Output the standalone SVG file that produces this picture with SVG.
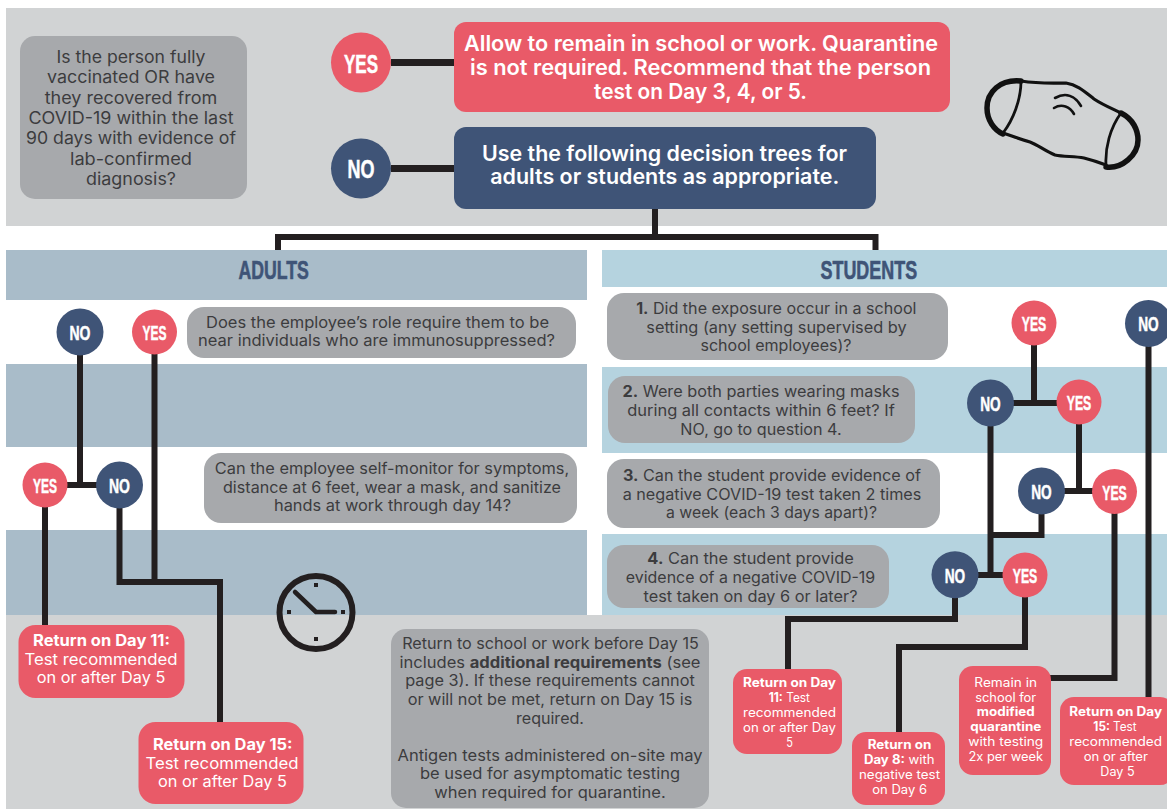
<svg xmlns="http://www.w3.org/2000/svg" width="1167" height="809" viewBox="0 0 1167 809">
<style>
text{font-family:Inter,"Open Sans","Liberation Sans",sans-serif;text-anchor:middle}
.q{fill:#a7a9ac}.r{fill:#e95a68}.b{fill:#3f5477}
.qt{fill:#3c3c3e;font-size:15.5px}
.qtl{fill:#3c3c3e;font-size:17px}
.wt{fill:#fff;font-size:15.5px}
.ws{fill:#fff;font-size:12.5px}
.big{fill:#fff;font-size:21px;font-weight:600}
.cap{font-family:"Liberation Sans Narrow","Liberation Sans",sans-serif;font-weight:700;fill:#fff;stroke:#fff;stroke-width:.5px}
.c1{font-size:26px}.c2{font-size:21px}
.hd{font-family:"Liberation Sans Narrow","Liberation Sans",sans-serif;font-weight:700;font-size:26px;fill:#3f5477;stroke:#3f5477;stroke-width:.6px}
.bd{font-weight:700}
.line{fill:none;stroke:#231f20;stroke-width:6;stroke-linejoin:miter}
.thick{stroke-width:7}
.ink{fill:none;stroke:#111;stroke-linecap:round;stroke-linejoin:round}
</style>
<rect width="1167" height="809" fill="#fff"/>
<g id="backgrounds">
<rect x="6" y="8" width="1161" height="218" fill="#d1d3d4"/>
<rect x="6" y="615" width="1161" height="194" fill="#d1d3d4"/>
<g fill="#a9bcc9">
<rect x="6" y="250" width="581" height="50"/>
<rect x="6" y="364" width="581" height="83"/>
<rect x="6" y="530" width="581" height="85"/>
</g>
<g fill="#b5d3df">
<rect x="602" y="250" width="565" height="37"/>
<rect x="602" y="367" width="565" height="86"/>
<rect x="602" y="534" width="565" height="81"/>
</g>
</g>
<g id="connectors">
<path class="line thick" d="M391 62.500H454M391 168.500H454"/>
<path class="line" d="M655 209V237M278 250V237H875.500V250"/>
<path class="line" d="M80 332V485M45 485H119.500M154.500 332V582M119.500 485V582H220V722M45 485V625"/>
<path class="line" d="M1034 323V403M990.500 403H1079M990.500 403V575M955 575H1025M1079 402V491M1041.500 491H1114.500M1041.500 491V535H990.500"/>
<path class="line" d="M955 575V619H788V669M1025 575V647H899V732M1114.500 491V678H1050M1148.500 323V697"/>
</g>
<g id="mask">
<path class="ink" stroke-width="3.200" d="M1021 81C1040 84 1055 83 1066 83C1078 85 1085 92 1094 99C1103 105 1113 109 1121 113M1106 165C1098 162 1092 160 1084 158C1074 156 1064 157 1055 155C1045 151 1038 145 1030 142C1020 139 1012 136 1003 133"/>
<path class="ink" stroke-width="5.500" d="M1021 81C1000 79 987 92 987 108C987 120 994 130 1003 134M1121 113C1133 119 1138 130 1138 140C1138 155 1122 169 1106 167"/>
<path class="ink" stroke-width="2.800" d="M1021 81C1021 100 1013 120 1003 133M1121 113C1110 128 1105 148 1106 165"/>
<path class="ink" stroke-width="2.600" d="M1055 98C1066 92 1075 96 1081 106M1054 108C1062 103 1070 107 1074 114"/>
</g>
<g id="clock">
<circle cx="316" cy="612.500" r="36.500" fill="none" stroke="#231f20" stroke-width="6"/>
<path d="M295 592L316 612H335" fill="none" stroke="#231f20" stroke-width="4.500" stroke-linecap="round" stroke-linejoin="round"/>
<g fill="#231f20"><rect x="314" y="583" width="4" height="4"/><rect x="287" y="610" width="4" height="4"/><rect x="341" y="610" width="4" height="4"/><rect x="314" y="637" width="4" height="4"/></g>
</g>
<g id="q-main">
<rect class="q" x="20" y="36" width="227" height="163" rx="15"/>
<text class="qtl" x="131" y="62.700" textLength="149" lengthAdjust="spacingAndGlyphs">Is the person fully</text>
<text class="qtl" x="131" y="83" textLength="168" lengthAdjust="spacingAndGlyphs">vaccinated OR have</text>
<text class="qtl" x="131" y="103.500" textLength="172.600" lengthAdjust="spacingAndGlyphs">they recovered from</text>
<text class="qtl" x="131" y="124" textLength="205" lengthAdjust="spacingAndGlyphs">COVID-19 within the last</text>
<text class="qtl" x="131" y="144.300" textLength="210" lengthAdjust="spacingAndGlyphs">90 days with evidence of</text>
<text class="qtl" x="131" y="165" textLength="122" lengthAdjust="spacingAndGlyphs">lab-confirmed</text>
<text class="qtl" x="131" y="185.300" textLength="90" lengthAdjust="spacingAndGlyphs">diagnosis?</text>
</g>
<g id="yes-main"><circle class="r" cx="361" cy="62.500" r="30"/><text class="cap c1" x="361" y="72.700" textLength="34" lengthAdjust="spacingAndGlyphs">YES</text></g>
<g id="no-main"><circle class="b" cx="361" cy="168.500" r="30"/><text class="cap c1" x="361" y="178" textLength="27" lengthAdjust="spacingAndGlyphs">NO</text></g>
<g id="allow">
<rect class="r" x="454" y="22" width="496" height="90" rx="12"/>
<text class="big" x="701" y="50.700" textLength="474" lengthAdjust="spacingAndGlyphs">Allow to remain in school or work. Quarantine</text>
<text class="big" x="700.500" y="75" textLength="461" lengthAdjust="spacingAndGlyphs">is not required. Recommend that the person</text>
<text class="big" x="700.500" y="99" textLength="213" lengthAdjust="spacingAndGlyphs">test on Day 3, 4, or 5.</text>
</g>
<g id="use-trees">
<rect class="b" x="454" y="127" width="422" height="82" rx="12"/>
<text class="big" x="664.500" y="160.700" textLength="365" lengthAdjust="spacingAndGlyphs">Use the following decision trees for</text>
<text class="big" x="664.800" y="184" textLength="349" lengthAdjust="spacingAndGlyphs">adults or students as appropriate.</text>
</g>
<g id="adults-head"><text class="hd" x="273.700" y="279" textLength="70.500" lengthAdjust="spacingAndGlyphs">ADULTS</text></g>
<g id="students-head"><text class="hd" x="868.800" y="279" textLength="96.600" lengthAdjust="spacingAndGlyphs">STUDENTS</text></g>
<g id="a-q1">
<rect class="q" x="187" y="307" width="389" height="51" rx="17"/>
<text class="qt" x="377.500" y="327.700" textLength="343" lengthAdjust="spacingAndGlyphs">Does the employee’s role require them to be</text>
<text class="qt" x="376.500" y="346" textLength="357" lengthAdjust="spacingAndGlyphs">near individuals who are immunosuppressed?</text>
</g>
<g id="a-q2">
<rect class="q" x="204" y="453" width="373" height="70" rx="17"/>
<text class="qt" x="392" y="474.300" textLength="354.400" lengthAdjust="spacingAndGlyphs">Can the employee self-monitor for symptoms,</text>
<text class="qt" x="392" y="492.700" textLength="338" lengthAdjust="spacingAndGlyphs">distance at 6 feet, wear a mask, and sanitize</text>
<text class="qt" x="392.500" y="511.300" textLength="237" lengthAdjust="spacingAndGlyphs">hands at work through day 14?</text>
</g>
<g id="a-no1"><circle class="b" cx="80" cy="332" r="23.500"/><text class="cap c2" x="80" y="340" textLength="21" lengthAdjust="spacingAndGlyphs">NO</text></g>
<g id="a-yes1"><circle class="r" cx="154.500" cy="332" r="22.500"/><text class="cap c2" x="154.500" y="340" textLength="24" lengthAdjust="spacingAndGlyphs">YES</text></g>
<g id="a-yes2"><circle class="r" cx="45" cy="485" r="22.500"/><text class="cap c2" x="45" y="493" textLength="24" lengthAdjust="spacingAndGlyphs">YES</text></g>
<g id="a-no2"><circle class="b" cx="119.500" cy="485" r="23.500"/><text class="cap c2" x="119.500" y="493" textLength="21" lengthAdjust="spacingAndGlyphs">NO</text></g>
<g id="a-day11">
<rect class="r" x="18.500" y="625" width="166" height="73" rx="17"/>
<text class="wt bd" x="101.500" y="646" textLength="137" lengthAdjust="spacingAndGlyphs">Return on Day 11:</text>
<text class="wt" x="101" y="664.700" textLength="153" lengthAdjust="spacingAndGlyphs">Test recommended</text>
<text class="wt" x="101" y="683.300" textLength="128.600" lengthAdjust="spacingAndGlyphs">on or after Day 5</text>
</g>
<g id="a-day15">
<rect class="r" x="138.500" y="722" width="165" height="82" rx="17"/>
<text class="wt bd" x="222.700" y="750" textLength="139.600" lengthAdjust="spacingAndGlyphs">Return on Day 15:</text>
<text class="wt" x="222" y="768.700" textLength="153" lengthAdjust="spacingAndGlyphs">Test recommended</text>
<text class="wt" x="222.500" y="787.300" textLength="129" lengthAdjust="spacingAndGlyphs">on or after Day 5</text>
</g>
<g id="note">
<rect class="q" x="391" y="629" width="318" height="179" rx="15"/>
<text class="qt" x="550.500" y="649" textLength="296.600" lengthAdjust="spacingAndGlyphs">Return to school or work before Day 15</text>
<text class="qt" x="550" y="667.700" textLength="301" lengthAdjust="spacingAndGlyphs">includes <tspan class="bd">additional requirements</tspan> (see</text>
<text class="qt" x="550" y="686" textLength="289.700" lengthAdjust="spacingAndGlyphs">page 3). If these requirements cannot</text>
<text class="qt" x="550" y="705" textLength="284.700" lengthAdjust="spacingAndGlyphs">or will not be met, return on Day 15 is</text>
<text class="qt" x="550" y="723.500" textLength="68" lengthAdjust="spacingAndGlyphs">required.</text>
<text class="qt" x="550" y="760.700" textLength="305" lengthAdjust="spacingAndGlyphs">Antigen tests administered on-site may</text>
<text class="qt" x="550" y="779.300" textLength="260" lengthAdjust="spacingAndGlyphs">be used for asymptomatic testing</text>
<text class="qt" x="550" y="797.700" textLength="231.400" lengthAdjust="spacingAndGlyphs">when required for quarantine.</text>
</g>
<g id="s-q1">
<rect class="q" x="607" y="293" width="341" height="67" rx="17"/>
<text class="qt" x="776.300" y="314" textLength="280.300" lengthAdjust="spacingAndGlyphs"><tspan class="bd">1.</tspan> Did the exposure occur in a school</text>
<text class="qt" x="776.500" y="332.700" textLength="260.400" lengthAdjust="spacingAndGlyphs">setting (any setting supervised by</text>
<text class="qt" x="776" y="351.300" textLength="151" lengthAdjust="spacingAndGlyphs">school employees)?</text>
</g>
<g id="s-q2">
<rect class="q" x="608" y="376" width="307" height="67" rx="17"/>
<text class="qt" x="761" y="397.300" textLength="277" lengthAdjust="spacingAndGlyphs"><tspan class="bd">2.</tspan> Were both parties wearing masks</text>
<text class="qt" x="761" y="416" textLength="267.600" lengthAdjust="spacingAndGlyphs">during all contacts within 6 feet? If</text>
<text class="qt" x="761" y="434.700" textLength="161.300" lengthAdjust="spacingAndGlyphs">NO, go to question 4.</text>
</g>
<g id="s-q3">
<rect class="q" x="607" y="459" width="333" height="69" rx="17"/>
<text class="qt" x="772" y="481" textLength="298" lengthAdjust="spacingAndGlyphs"><tspan class="bd">3.</tspan> Can the student provide evidence of</text>
<text class="qt" x="772" y="499.700" textLength="298.700" lengthAdjust="spacingAndGlyphs">a negative COVID-19 test taken 2 times</text>
<text class="qt" x="771.500" y="518.300" textLength="211" lengthAdjust="spacingAndGlyphs">a week (each 3 days apart)?</text>
</g>
<g id="s-q4">
<rect class="q" x="607" y="545" width="282" height="63" rx="17"/>
<text class="qt" x="750.600" y="564.300" textLength="206.500" lengthAdjust="spacingAndGlyphs"><tspan class="bd">4.</tspan> Can the student provide</text>
<text class="qt" x="750.500" y="583" textLength="249.500" lengthAdjust="spacingAndGlyphs">evidence of a negative COVID-19</text>
<text class="qt" x="750.500" y="601.700" textLength="214" lengthAdjust="spacingAndGlyphs">test taken on day 6 or later?</text>
</g>
<g id="s-yes1"><circle class="r" cx="1034" cy="323" r="22.500"/><text class="cap c2" x="1034" y="331" textLength="24.500" lengthAdjust="spacingAndGlyphs">YES</text></g>
<g id="s-no1"><circle class="b" cx="1148.500" cy="323.500" r="23.500"/><text class="cap c2" x="1148.500" y="331" textLength="20.500" lengthAdjust="spacingAndGlyphs">NO</text></g>
<g id="s-no2"><circle class="b" cx="990.500" cy="403" r="23.500"/><text class="cap c2" x="990.500" y="411" textLength="20.500" lengthAdjust="spacingAndGlyphs">NO</text></g>
<g id="s-yes2"><circle class="r" cx="1079" cy="402" r="22.500"/><text class="cap c2" x="1079" y="410" textLength="24.500" lengthAdjust="spacingAndGlyphs">YES</text></g>
<g id="s-no3"><circle class="b" cx="1041.500" cy="491" r="23.500"/><text class="cap c2" x="1041.500" y="499" textLength="20.500" lengthAdjust="spacingAndGlyphs">NO</text></g>
<g id="s-yes3"><circle class="r" cx="1114.500" cy="491.500" r="22.500"/><text class="cap c2" x="1114.500" y="499.500" textLength="24.500" lengthAdjust="spacingAndGlyphs">YES</text></g>
<g id="s-no4"><circle class="b" cx="955" cy="574.700" r="23.500"/><text class="cap c2" x="955" y="583" textLength="20.500" lengthAdjust="spacingAndGlyphs">NO</text></g>
<g id="s-yes4"><circle class="r" cx="1025" cy="575" r="22.500"/><text class="cap c2" x="1025" y="583" textLength="24.500" lengthAdjust="spacingAndGlyphs">YES</text></g>
<g id="s-day11">
<rect class="r" x="733" y="669" width="109" height="85" rx="14"/>
<text class="ws bd" x="789.500" y="686.700" textLength="93" lengthAdjust="spacingAndGlyphs">Return on Day</text>
<text class="ws" x="789.300" y="701.700" textLength="41.300" lengthAdjust="spacingAndGlyphs"><tspan class="bd">11:</tspan> Test</text>
<text class="ws" x="789.500" y="716.700" textLength="93" lengthAdjust="spacingAndGlyphs">recommended</text>
<text class="ws" x="789.500" y="731.700" textLength="93" lengthAdjust="spacingAndGlyphs">on or after Day</text>
<text class="ws" x="789.500" y="746.700" textLength="6.700" lengthAdjust="spacingAndGlyphs">5</text>
</g>
<g id="s-day8">
<rect class="r" x="852" y="732" width="93" height="73" rx="14"/>
<text class="ws bd" x="899.500" y="749.300" textLength="63.700" lengthAdjust="spacingAndGlyphs">Return on</text>
<text class="ws" x="899.300" y="764.300" textLength="70.700" lengthAdjust="spacingAndGlyphs"><tspan class="bd">Day 8:</tspan> with</text>
<text class="ws" x="899.500" y="779.300" textLength="81" lengthAdjust="spacingAndGlyphs">negative test</text>
<text class="ws" x="899.600" y="794.300" textLength="54.700" lengthAdjust="spacingAndGlyphs">on Day 6</text>
</g>
<g id="s-remain">
<rect class="r" x="959" y="666" width="92" height="109" rx="14"/>
<text class="ws" x="1005.700" y="686.700" textLength="62.700" lengthAdjust="spacingAndGlyphs">Remain in</text>
<text class="ws" x="1005.700" y="701.700" textLength="61" lengthAdjust="spacingAndGlyphs">school for</text>
<text class="ws bd" x="1005.800" y="716.300" textLength="58" lengthAdjust="spacingAndGlyphs">modified</text>
<text class="ws bd" x="1005.800" y="731" textLength="71" lengthAdjust="spacingAndGlyphs">quarantine</text>
<text class="ws" x="1005.800" y="746" textLength="75" lengthAdjust="spacingAndGlyphs">with testing</text>
<text class="ws" x="1005.800" y="760.700" textLength="74.700" lengthAdjust="spacingAndGlyphs">2x per week</text>
</g>
<g id="s-day15">
<rect class="r" x="1060" y="697" width="114" height="88" rx="14"/>
<text class="ws bd" x="1115.700" y="716.300" textLength="92.700" lengthAdjust="spacingAndGlyphs">Return on Day</text>
<text class="ws" x="1115" y="731" textLength="43.300" lengthAdjust="spacingAndGlyphs"><tspan class="bd">15:</tspan> Test</text>
<text class="ws" x="1115.700" y="746" textLength="92.700" lengthAdjust="spacingAndGlyphs">recommended</text>
<text class="ws" x="1115.800" y="760.700" textLength="64.300" lengthAdjust="spacingAndGlyphs">on or after</text>
<text class="ws" x="1117.500" y="775.500" textLength="34.300" lengthAdjust="spacingAndGlyphs">Day 5</text>
</g>
</svg>
